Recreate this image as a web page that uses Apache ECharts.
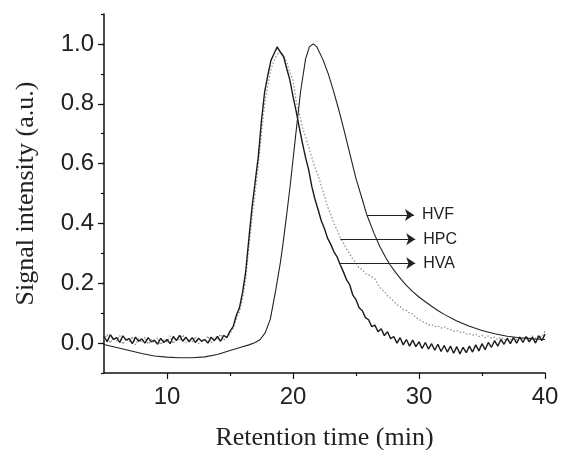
<!DOCTYPE html>
<html>
<head>
<meta charset="utf-8">
<script src="https://cdn.jsdelivr.net/npm/echarts@6/dist/echarts.min.js"></script>
<style>
  html, body { margin: 0; padding: 0; background: #fff; }
  #chart { width: 561px; height: 450px; }
</style>
</head>
<body>
<div id="chart"></div>
<script>
// sampling grid of the two noisy traces (min)
const time = [
  5.00, 5.25, 5.50, 5.75, 6.00, 6.25, 6.50, 6.75, 7.00, 7.25, 7.50, 7.75,
  8.00, 8.25, 8.50, 8.75, 9.00, 9.25, 9.50, 9.75, 10.00, 10.25, 10.50, 10.75,
  11.00, 11.25, 11.50, 11.75, 12.00, 12.25, 12.50, 12.75, 13.00, 13.25, 13.50, 13.75,
  14.00, 14.25, 14.50, 14.75, 15.00, 15.25, 15.50, 15.75, 16.00, 16.25, 16.50, 16.75,
  17.00, 17.25, 17.50, 17.75, 18.00, 18.25, 18.50, 18.75, 19.00, 19.25, 19.50, 19.75,
  20.00, 20.25, 20.50, 20.75, 21.00, 21.25, 21.50, 21.75, 22.00, 22.25, 22.50, 22.75,
  23.00, 23.25, 23.50, 23.75, 24.00, 24.25, 24.50, 24.75, 25.00, 25.25, 25.50, 25.75,
  26.00, 26.25, 26.50, 26.75, 27.00, 27.25, 27.50, 27.75, 28.00, 28.25, 28.50, 28.75,
  29.00, 29.25, 29.50, 29.75, 30.00, 30.25, 30.50, 30.75, 31.00, 31.25, 31.50, 31.75,
  32.00, 32.25, 32.50, 32.75, 33.00, 33.25, 33.50, 33.75, 34.00, 34.25, 34.50, 34.75,
  35.00, 35.25, 35.50, 35.75, 36.00, 36.25, 36.50, 36.75, 37.00, 37.25, 37.50, 37.75,
  38.00, 38.25, 38.50, 38.75, 39.00, 39.25, 39.50, 39.75, 40.00
];

// HVA trace (dark, noisy)
const hva = [
  0.022, 0.005, 0.028, 0.012, 0.018, 0.002, 0.024, 0.010, 0.015, -0.002, 0.020, 0.006,
  0.014, 0.000, 0.018, 0.004, 0.010, -0.004, 0.016, 0.002, 0.012, -0.002, 0.022, 0.008,
  0.026, 0.006, 0.020, 0.004, 0.018, 0.002, 0.016, 0.006, 0.012, 0.000, 0.020, 0.008,
  0.022, 0.006, 0.026, 0.018, 0.040, 0.055, 0.092, 0.118, 0.170, 0.240, 0.350, 0.455,
  0.540, 0.625, 0.745, 0.840, 0.895, 0.945, 0.968, 0.990, 0.972, 0.958, 0.918, 0.880,
  0.825, 0.775, 0.720, 0.668, 0.620, 0.578, 0.522, 0.480, 0.445, 0.408, 0.382, 0.350,
  0.330, 0.305, 0.288, 0.262, 0.238, 0.212, 0.195, 0.160, 0.145, 0.118, 0.108, 0.085,
  0.078, 0.055, 0.060, 0.038, 0.048, 0.025, 0.038, 0.015, 0.022, 0.000, 0.018, -0.006,
  0.012, -0.010, 0.010, -0.012, 0.004, -0.018, 0.002, -0.020, -0.002, -0.024, -0.004, -0.028,
  -0.008, -0.030, -0.010, -0.034, -0.012, -0.036, -0.014, -0.032, -0.010, -0.030, -0.006, -0.026,
  -0.002, -0.022, 0.002, -0.014, 0.008, -0.010, 0.012, -0.004, 0.016, -0.002, 0.018, 0.000,
  0.020, 0.002, 0.022, 0.004, 0.020, 0.000, 0.024, 0.008, 0.030
];

// HPC trace (grey, dotted)
const hpc = [
  0.010, 0.030, 0.000, 0.020, 0.006, 0.026, -0.004, 0.016, 0.004, 0.022, -0.006, 0.014,
  0.002, 0.020, -0.004, 0.012, 0.000, 0.018, -0.006, 0.010, 0.004, 0.024, -0.002, 0.018,
  0.008, 0.028, 0.002, 0.016, 0.004, 0.022, -0.002, 0.014, 0.006, 0.024, 0.000, 0.018,
  0.010, 0.030, 0.008, 0.024, 0.030, 0.050, 0.080, 0.105, 0.150, 0.215, 0.320, 0.420,
  0.505, 0.595, 0.700, 0.800, 0.860, 0.915, 0.945, 0.965, 0.975, 0.960, 0.940, 0.905,
  0.880, 0.810, 0.770, 0.720, 0.690, 0.655, 0.620, 0.585, 0.560, 0.525, 0.490, 0.455,
  0.430, 0.400, 0.378, 0.352, 0.335, 0.315, 0.298, 0.280, 0.268, 0.252, 0.245, 0.232,
  0.228, 0.222, 0.215, 0.195, 0.180, 0.172, 0.158, 0.150, 0.140, 0.128, 0.122, 0.112,
  0.110, 0.100, 0.098, 0.085, 0.080, 0.072, 0.068, 0.060, 0.062, 0.055, 0.058, 0.050,
  0.055, 0.048, 0.046, 0.040, 0.042, 0.036, 0.038, 0.030, 0.032, 0.026, 0.030, 0.022,
  0.026, 0.018, 0.024, 0.016, 0.020, 0.012, 0.020, 0.010, 0.018, 0.010, 0.018, 0.012,
  0.020, 0.012, 0.022, 0.014, 0.024, 0.016, 0.026, 0.020, 0.040
];

// HVF trace (smooth solid line), own sampling
const hvfTime = [
  5, 6, 7, 8, 9, 10, 11, 12, 13, 14, 15, 16, 16.5, 17, 17.4, 17.8, 18.2, 18.6,
  19.0, 19.2, 19.5, 19.8, 20.2, 20.6, 21.0, 21.3, 21.6, 21.9, 22.4, 22.8, 23.2,
  23.6, 24.0, 24.5, 25.0, 25.5, 25.85, 26.4, 26.9, 27.3, 27.7, 28.2, 28.6, 29.0,
  29.5, 30, 30.5, 31, 31.5, 32, 33, 34, 35, 36, 37, 38, 39, 40
];
const hvf = [
  -0.005, -0.015, -0.025, -0.035, -0.043, -0.047, -0.049, -0.049, -0.046, -0.038, -0.025, -0.012, -0.006, 0.002, 0.012, 0.035, 0.080, 0.170,
  0.270, 0.330, 0.430, 0.535, 0.690, 0.840, 0.950, 0.990, 1.000, 0.990, 0.945, 0.900, 0.845,
  0.785, 0.720, 0.635, 0.550, 0.480, 0.430, 0.370, 0.322, 0.290, 0.262, 0.233, 0.212, 0.193,
  0.172, 0.154, 0.138, 0.123, 0.109, 0.096, 0.074, 0.056, 0.042, 0.031, 0.023, 0.018, 0.014, 0.012
];

// tick labels
const xTicks = [10, 20, 30, 40];
const xMinorTicks = [15, 25, 35];
const yTicks = [0, 0.2, 0.4, 0.6, 0.8, 1.0];

// arrow labels: name, y level, arrow start and end (min)
const annoNames = ['HVF', 'HPC', 'HVA'];
const annoY = [0.428, 0.347, 0.267];
const annoStart = [25.85, 23.75, 23.7];
const annoEnd = [29.6, 29.7, 29.7];

const pair = (xs, ys) => xs.map((x, i) => [x, ys[i]]);

const chart = echarts.init(document.getElementById('chart'), null, { renderer: 'canvas' });

const textColor = '#222';
const axisFont = 'Liberation Sans, Arial, sans-serif';
const titleFont = 'Liberation Serif, Times New Roman, serif';

const option = {
  animation: false,
  backgroundColor: '#fff',
  grid: { left: 104, right: 16, top: 14, bottom: 77, containLabel: false, outerBoundsMode: 'none' },
  xAxis: [
    {
      type: 'value',
      min: 5,
      max: 40,
      interval: 5,
      position: 'bottom',
      name: 'Retention time (min)',
      nameLocation: 'middle',
      nameGap: 52,
      nameTextStyle: { fontFamily: titleFont, fontSize: 26, color: textColor },
      axisLine: { onZero: false, lineStyle: { color: '#111', width: 1.5 } },
      axisTick: { customValues: xTicks, length: 6, lineStyle: { color: '#111', width: 1.2 } },
      axisLabel: {
        customValues: xTicks,
        margin: 12,
        fontFamily: axisFont,
        fontSize: 24,
        color: textColor
      },
      splitLine: { show: false }
    },
    {
      type: 'value',
      min: 5,
      max: 40,
      interval: 5,
      position: 'bottom',
      axisLine: { show: false, onZero: false },
      axisTick: { customValues: xMinorTicks, length: 3, lineStyle: { color: '#111', width: 1.2 } },
      axisLabel: { show: false },
      splitLine: { show: false }
    }
  ],
  yAxis: [
    {
      type: 'value',
      min: -0.1,
      max: 1.1,
      interval: 0.1,
      position: 'left',
      name: 'Signal intensity (a.u.)',
      nameLocation: 'middle',
      nameGap: 65,
      nameTextStyle: { fontFamily: titleFont, fontSize: 26, color: textColor },
      axisLine: { show: true, onZero: false, lineStyle: { color: '#111', width: 1.5 } },
      axisTick: { show: true, customValues: yTicks, length: 6, lineStyle: { color: '#111', width: 1.2 } },
      axisLabel: {
        customValues: yTicks,
        margin: 10,
        fontFamily: axisFont,
        fontSize: 24,
        color: textColor,
        formatter: v => v.toFixed(1)
      },
      splitLine: { show: false }
    },
    {
      type: 'value',
      min: -0.1,
      max: 1.1,
      interval: 0.1,
      position: 'left',
      axisLine: { show: false, onZero: false },
      axisTick: { show: true, length: 3, lineStyle: { color: '#111', width: 1.2 } },
      axisLabel: { show: false },
      splitLine: { show: false }
    }
  ],
  series: [
    {
      name: 'HPC',
      type: 'line',
      data: pair(time, hpc),
      showSymbol: false,
      symbol: 'none',
      lineStyle: { color: '#8a8a8a', width: 1.2, type: [1.5, 2] }
    },
    {
      name: 'HVA',
      type: 'line',
      data: pair(time, hva),
      showSymbol: false,
      symbol: 'none',
      lineStyle: { color: '#1a1a1a', width: 1.4 }
    },
    {
      name: 'HVF',
      type: 'line',
      data: pair(hvfTime, hvf),
      showSymbol: false,
      symbol: 'none',
      lineStyle: { color: '#222', width: 1.1 },
      markLine: {
        silent: true,
        symbol: ['none', 'arrow'],
        symbolSize: 9,
        lineStyle: { color: '#222', width: 1, type: 'solid' },
        label: {
          show: true,
          position: 'end',
          distance: 8,
          formatter: '{b}',
          fontFamily: axisFont,
          fontSize: 16,
          color: textColor
        },
        data: annoNames.map((n, i) => [
          { name: n, coord: [annoStart[i], annoY[i]] },
          { coord: [annoEnd[i], annoY[i]] }
        ])
      }
    }
  ]
};

chart.setOption(option);
</script>
</body>
</html>
